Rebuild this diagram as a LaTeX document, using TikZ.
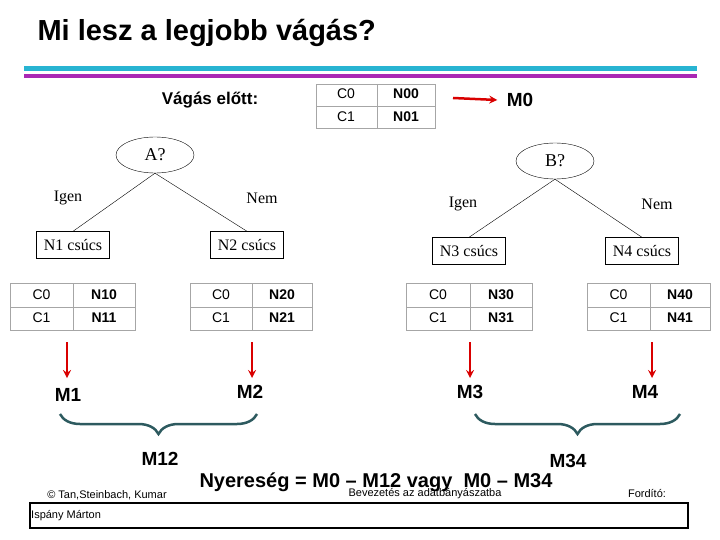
\documentclass[tikz,border=0pt]{standalone}
\usepackage{fontspec}
\setmainfont{Liberation Serif}
\setsansfont{Liberation Sans}
\usetikzlibrary{shapes.geometric,arrows,decorations.pathreplacing}
\definecolor{bracecol}{RGB}{45,90,95}
\definecolor{lilac}{RGB}{170,40,180}
\definecolor{cyanbar}{RGB}{40,180,210}
\tikzstyle{question} = [ellipse, draw=black, minimum width=78pt, minimum height=36pt, font=\fontsize{18}{18}\selectfont]
\tikzstyle{leaf} = [rectangle, draw=black, minimum width=73pt, minimum height=27pt, inner sep=1pt, font=\fontsize{16}{16}\selectfont]
\tikzstyle{edgelabel} = [font=\fontsize{16}{16}\selectfont]
\tikzstyle{measure} = [font=\sffamily\bfseries\fontsize{19}{19}\selectfont]
\tikzstyle{redarrow} = [red!85!black, line width=2.5pt, ->, >=stealth]
\tikzstyle{cbrace} = [bracecol, line width=2.5pt, decorate, decoration={brace, mirror, amplitude=20pt}]
\tikzstyle{tabcell} = [font=\sffamily\fontsize{14}{14}\selectfont]
\newcommand{\counttable}[5]{% x-left, x-split, x-right, name0, name1
  \draw[gray!70] (#1,283) rectangle (#3,330);
  \draw[gray!70] (#1,307) -- (#3,307);
  \draw[gray!70] (#2,283) -- (#2,330);
  \node[tabcell] at ({(#1+#2)/2},295) {C0};
  \node[tabcell] at ({(#1+#2)/2},318) {C1};
  \node[tabcell, font=\sffamily\bfseries\fontsize{14}{14}\selectfont] at ({(#2+#3)/2},295) {#4};
  \node[tabcell, font=\sffamily\bfseries\fontsize{14}{14}\selectfont] at ({(#2+#3)/2},318) {#5};
}
\begin{document}
\begin{tikzpicture}[x=1pt,y=-1pt]
\useasboundingbox (0,0) rectangle (720,540);
\node[anchor=west, font=\sffamily\bfseries\fontsize{29}{29}\selectfont] (title) at (34,33) {Mi lesz a legjobb vágás?};
\fill[cyanbar] (24,66) rectangle (697,71);
\fill[lilac] (24,74) rectangle (697,78);

% root table
\node[font=\sffamily\bfseries\fontsize{17}{17}\selectfont] (before) at (210,100) {Vágás előtt:};
\draw[gray!70] (316,84) rectangle (435,128);
\draw[gray!70] (316,106) -- (435,106);
\draw[gray!70] (377,84) -- (377,128);
\node[tabcell] at (346,94) {C0};
\node[tabcell] at (346,117) {C1};
\node[tabcell, font=\sffamily\bfseries\fontsize{14}{14}\selectfont] at (406,94) {N00};
\node[tabcell, font=\sffamily\bfseries\fontsize{14}{14}\selectfont] at (406,117) {N01};
\coordinate (m0start) at (453,98);
\node[measure] (m0) at (520,100) {M0};
\draw[redarrow] (m0start) -- ([xshift=-6pt]m0.west);

% split on A
\node[question] (qa) at (155,155) {A?};
\node[leaf] (n1) at (73,245) {N1 csúcs};
\node[leaf] (n2) at (247,245) {N2 csúcs};
\draw (qa.south) -- (n1.north);
\draw (qa.south) -- (n2.north);
\node[edgelabel] at (68,198) {Igen};
\node[edgelabel] at (262,198) {Nem};

% split on B
\node[question] (qb) at (555,161) {B?};
\node[leaf] (n3) at (469,251) {N3 csúcs};
\node[leaf] (n4) at (642,251) {N4 csúcs};
\draw (qb.south) -- (n3.north);
\draw (qb.south) -- (n4.north);
\node[edgelabel] at (463,204) {Igen};
\node[edgelabel] at (657,204) {Nem};

% count tables
\counttable{10}{73}{135}{N10}{N11}
\counttable{190}{252}{312}{N20}{N21}
\counttable{406}{470}{532}{N30}{N31}
\counttable{587}{650}{710}{N40}{N41}

% measures
\node[measure] (m1) at (68,395) {M1};
\node[measure] (m2) at (250,392) {M2};
\node[measure] (m3) at (470,392) {M3};
\node[measure] (m4) at (645,392) {M4};
\foreach \x/\m in {67/m1,252/m2,470/m3,652/m4}
  \draw[redarrow] (\x,342) -- (\x,378);

\coordinate (b1l) at (60,414);
\coordinate (b1r) at (257,414);
\coordinate (b2l) at (475,414);
\coordinate (b2r) at (680,414);
\draw[cbrace] (b1l) -- (b1r);
\draw[cbrace] (b2l) -- (b2r);
\node[measure] (m12) at (160,459) {M12};
\node[measure] (m34) at (568,461) {M34};

\node[font=\sffamily\bfseries\fontsize{20}{20}\selectfont] (gain) at (376,482) {Nyereség = M0 -- M12 vagy\ \ M0 -- M34};

% footer
\node[font=\sffamily\fontsize{11}{11}\selectfont] (copy) at (107,495) {© Tan,Steinbach, Kumar};
\node[font=\sffamily\fontsize{11}{11}\selectfont] (course) at (425,494) {Bevezetés az adatbányászatba};
\node[font=\sffamily\fontsize{11}{11}\selectfont] (transl) at (647,494) {Fordító:};
\draw[line width=1.5pt] (30,503) rectangle (688,528);
\node[anchor=west, inner sep=0pt, font=\sffamily\fontsize{11}{11}\selectfont] (name) at (31,516) {Ispány Márton};
\end{tikzpicture}
\end{document}
